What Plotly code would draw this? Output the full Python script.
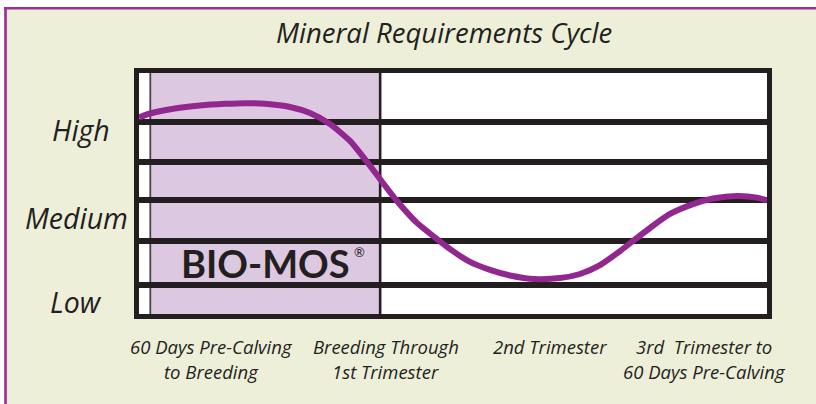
import plotly.graph_objects as go

# ---------------- data ----------------
# position along the cycle (0-100) and relative mineral requirement level (0-100)
cycle_pos = [0.0, 1.75, 5.73, 9.71, 13.69, 16.88, 20.06, 24.04, 27.23, 30.41, 33.60,
             36.31, 38.38, 41.08, 44.27, 47.45, 50.0, 52.71, 55.89, 59.08, 63.06,
             67.04, 70.22, 73.41, 76.59, 78.66, 81.37, 84.55, 88.22, 91.40, 95.22,
             98.41, 100.0]
requirement = [81.6, 83.2, 85.3, 86.5, 87.2, 87.5, 87.2, 85.9, 83.4, 78.8, 71.8,
               63.1, 56.0, 46.9, 37.8, 31.1, 26.1, 21.6, 18.3, 16.0, 14.5,
               14.9, 16.6, 20.3, 26.1, 30.3, 35.7, 41.5, 45.6, 47.9, 49.0,
               48.3, 47.1]

level_lines = [79.7, 62.9, 47.3, 30.3, 12.0]
level_labels = ["High", "Medium", "Low"]
level_label_y = [76.3, 39.8, 5.0]

phase_lines_1 = ["60 Days Pre-Calving", "Breeding Through", "2nd Trimester", "3rd  Trimester to"]
phase_lines_2 = ["to Breeding", "1st Trimester", "", "60 Days Pre-Calving"]
phase_centers = [11.5, 39.3, 65.4, 90.0]

biomos_start = 1.9
biomos_end = 38.5

# ---------------- layout geometry ----------------
W, H = 816, 404
L, R, T, B = 139, 49, 73, 90
PW, PH = W - L - R, H - T - B

def px_x(px):
    return (px - L) / PW

def px_y(py):
    return (T + PH - py) / PH

INK = "#231f20"
PURPLE = "#92278f"
BG = "#edefd9"
FONT_IT = "Open Sans"

fig = go.Figure()
fig.add_trace(go.Scatter(
    x=cycle_pos, y=requirement, mode="lines",
    line=dict(color=PURPLE, width=6, shape="spline", smoothing=0.6),
    hoverinfo="skip", showlegend=False,
))

shapes = [
    # BIO-MOS shaded band
    dict(type="rect", xref="x", yref="y", x0=biomos_start, x1=biomos_end, y0=0, y1=100,
         fillcolor="#dcc8e1", line=dict(width=0), layer="below"),
    dict(type="line", xref="x", yref="y", x0=biomos_start - 0.1, x1=biomos_start - 0.1, y0=0, y1=100,
         line=dict(color="#4a4446", width=1.8), layer="below"),
    dict(type="line", xref="x", yref="y", x0=biomos_end - 0.1, x1=biomos_end - 0.1, y0=0, y1=100,
         line=dict(color=INK, width=2.6), layer="below"),
    # page frame (white margin + purple frame on top and left)
    dict(type="rect", xref="paper", yref="paper", x0=px_x(0), x1=px_x(4.2),
         y0=px_y(404), y1=px_y(0), fillcolor="white", line=dict(width=0)),
    dict(type="rect", xref="paper", yref="paper", x0=px_x(0), x1=px_x(816),
         y0=px_y(7), y1=px_y(0), fillcolor="white", line=dict(width=0)),
    dict(type="rect", xref="paper", yref="paper", x0=px_x(4.2), x1=px_x(6.8),
         y0=px_y(404), y1=px_y(7), fillcolor="#9b2d95", line=dict(width=0)),
    dict(type="rect", xref="paper", yref="paper", x0=px_x(4.2), x1=px_x(816),
         y0=px_y(9.5), y1=px_y(7), fillcolor="#9b2d95", line=dict(width=0)),
]

annotations = [
    dict(text="<i>Mineral Requirements Cycle</i>", xref="paper", yref="paper",
         x=px_x(444), y=px_y(33), xanchor="center", yanchor="middle", showarrow=False,
         font=dict(family=FONT_IT, size=27.5, color=INK)),
    dict(text="<b>BIO-MOS</b>", xref="paper", yref="paper",
         x=px_x(265), y=px_y(263), xanchor="center", yanchor="middle", showarrow=False,
         font=dict(family="Lato", size=38, color=INK)),
    dict(text="®", xref="paper", yref="paper",
         x=px_x(359), y=px_y(252), xanchor="center", yanchor="middle", showarrow=False,
         font=dict(family="Lato", size=13, color=INK)),
]

level_label_x = [81, 76, 76]
for lab, yv, xv in zip(level_labels, level_label_y, level_label_x):
    annotations.append(dict(text=f"<i>{lab}</i>", xref="paper", yref="y",
                            x=px_x(xv), y=yv, xanchor="center", yanchor="middle",
                            showarrow=False, font=dict(family=FONT_IT, size=28.5, color=INK)))

for l1, l2, xc in zip(phase_lines_1, phase_lines_2, phase_centers):
    annotations.append(dict(text=f"<i>{l1}</i>", xref="x", yref="paper",
                            x=xc, y=px_y(346), xanchor="center", yanchor="middle",
                            showarrow=False, font=dict(family=FONT_IT, size=18.5, color=INK)))
    if l2:
        annotations.append(dict(text=f"<i>{l2}</i>", xref="x", yref="paper",
                                x=xc, y=px_y(371), xanchor="center", yanchor="middle",
                                showarrow=False, font=dict(family=FONT_IT, size=18.5, color=INK)))

fig.update_layout(
    width=W, height=H,
    margin=dict(l=L, r=R, t=T, b=B, pad=0),
    paper_bgcolor=BG,
    plot_bgcolor="white",
    shapes=shapes,
    annotations=annotations,
    showlegend=False,
    xaxis=dict(range=[0, 100], showgrid=False, zeroline=False, showticklabels=False,
               ticks="", showline=True, mirror=True, linewidth=5, linecolor=INK,
               fixedrange=True),
    yaxis=dict(range=[0, 100], tickvals=level_lines, showgrid=True, gridwidth=6,
               gridcolor=INK, zeroline=False, showticklabels=False, ticks="",
               showline=True, mirror=True, linewidth=5, linecolor=INK, fixedrange=True),
)

fig.write_html("out.html", config={"displayModeBar": False},
               post_script="document.body.style.margin='0';document.body.style.overflow='hidden';")
